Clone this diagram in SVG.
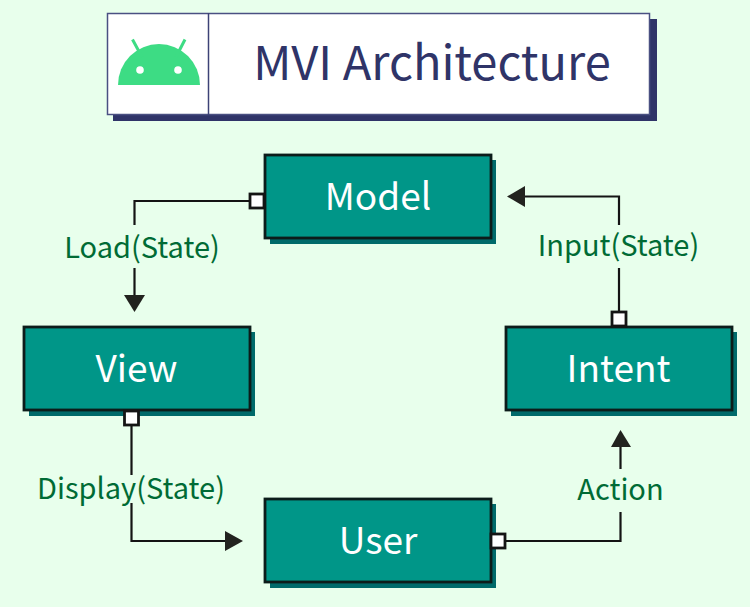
<svg xmlns="http://www.w3.org/2000/svg" width="750" height="607" viewBox="0 0 750 607">
<defs>
<style>
text{font-family:"Noto Sans CJK JP","Noto Sans",sans-serif;text-anchor:middle}
.box{fill:#009688;stroke:#0c1c1a;stroke-width:2.800}
.sh{fill:#006a6a}
.nt{fill:#fff;font-size:37px}
.lb{fill:#006b35;font-size:29px}
.ln{fill:none;stroke:#141414;stroke-width:2.200}
.pt{fill:#fff;stroke:#141414;stroke-width:2.800}
.ah{fill:#22231f}
</style>
</defs>
<rect width="750" height="607" fill="#e8ffec"/>
<g id="title">
<rect x="113" y="19" width="544" height="102" fill="#2f3468"/>
<rect x="107.500" y="13.500" width="542" height="101" fill="#fff" stroke="#4a5082" stroke-width="1.500"/>
<line x1="208.500" y1="13" x2="208.500" y2="115" stroke="#3c4276" stroke-width="1.500"/>
<g id="android-logo" fill="#3ddc84">
<path d="M118 85a41 41 0 0 1 82 0z"/>
<path d="M132.500 39.500L142 57M185 39.500L176 57" stroke="#3ddc84" stroke-width="3" fill="none"/>
<circle cx="140" cy="70" r="3.800" fill="#fff"/><circle cx="178" cy="70" r="3.800" fill="#fff"/>
</g>
<text x="432" y="80" font-size="47" fill="#2f3468">MVI Architecture</text>
</g>
<g id="connectors">
<path class="ln" d="M134.500 225V201H250"/>
<path class="ln" d="M134.500 268V296"/>
<path class="ah" d="M124 295H145L134.500 312z"/>
<path class="ln" d="M619 311V268M619 225V196.500H525"/>
<path class="ah" d="M525 186V207L507 196.500z"/>
<path class="ln" d="M131.500 426V475M131.500 503V541H226"/>
<path class="ah" d="M225 531V551L243 541z"/>
<path class="ln" d="M506 541H620.500V512M620.500 469V446"/>
<path class="ah" d="M611 447H631L620.500 430z"/>
</g>
<g id="model">
<rect class="sh" x="270" y="160" width="226" height="84"/>
<rect class="box" x="265" y="155" width="226" height="83"/>
<rect class="pt" x="250" y="194" width="14" height="14"/>
<text class="nt" x="378" y="210">Model</text>
</g>
<g id="view">
<rect class="sh" x="29" y="332" width="226" height="84"/>
<rect class="box" x="24" y="327" width="226" height="83"/>
<rect class="pt" x="124.500" y="411" width="14" height="14"/>
<text class="nt" x="136.500" y="382">View</text>
</g>
<g id="intent">
<rect class="sh" x="511" y="332" width="226" height="84"/>
<rect class="box" x="506" y="327" width="226" height="83"/>
<rect class="pt" x="612" y="312" width="14" height="14"/>
<text class="nt" x="618.500" y="382">Intent</text>
</g>
<g id="user">
<rect class="sh" x="270" y="504" width="226" height="84"/>
<rect class="box" x="265" y="499" width="226" height="83"/>
<rect class="pt" x="491" y="534" width="14" height="14"/>
<text class="nt" x="378" y="554">User</text>
</g>
<g id="labels">
<text class="lb" x="142" y="258">Load(State)</text>
<text class="lb" x="618.500" y="256">Input(State)</text>
<text class="lb" x="131" y="499">Display(State)</text>
<text class="lb" x="620.500" y="500">Action</text>
</g>
</svg>
